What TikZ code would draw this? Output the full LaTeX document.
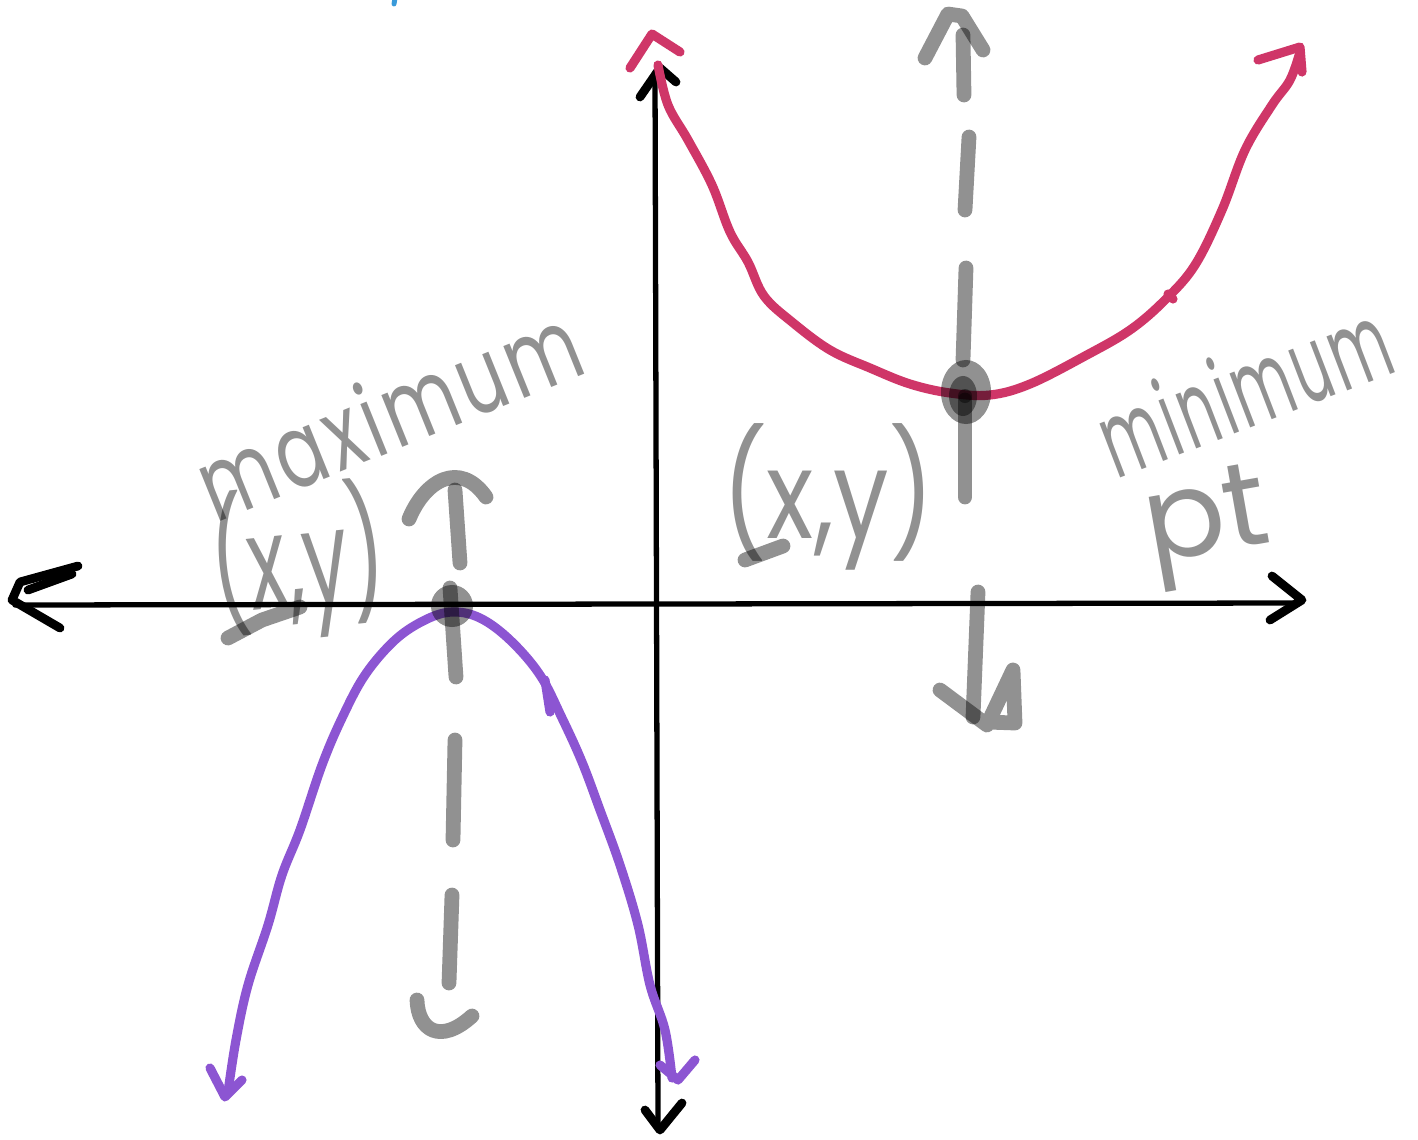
\documentclass[tikz,border=0pt]{standalone}
\usepackage{fontspec}
\setmainfont{Poppins}
\definecolor{curvered}{HTML}{CF3668}
\definecolor{curvepurple}{HTML}{8C55D2}
\definecolor{inkblue}{HTML}{3A9AD9}
\begin{document}
\begin{tikzpicture}[x=0.01cm,y=-0.01cm, line cap=round, line join=round,
 axis/.style={draw=black, line width=1.5pt},
 axhead/.style={draw=black, line width=2.5pt},
 redc/.style={draw=curvered, line width=2.6pt},
 purc/.style={draw=curvepurple, line width=2.6pt},
 pen/.style={draw=black, draw opacity=0.43, line width=4.2pt},
 blob/.style={fill=black, fill opacity=0.43},
 hw/.style={text=black, text opacity=0.43, inner sep=0pt, transform shape}
]
\useasboundingbox[fill=white] (0,0) rectangle (1418,1139);

% stray blue mark at top
\draw[draw=inkblue, line width=1.4pt] (395,-2) -- (394,4);

% axes
\coordinate (xl) at (15,605);
\coordinate (xr) at (1298,603);
\coordinate (yt) at (655,72);
\coordinate (yb) at (658,1125);
\draw[axis] (xl) -- (xr);
\draw[axis] (yt) -- (yb);
\draw[axhead] (78,566) -- (20,582) -- (12,600) -- (60,628);
\draw[axhead] (72,574) -- (28,590);
\draw[axhead] (1272,576) -- (1302,600) -- (1270,620);
\draw[axhead] (640,97) -- (660,68) -- (676,82);
\draw[axhead] (645,1110) -- (660,1130) -- (682,1103);

% red (upward) parabola
\draw[redc] plot[smooth, tension=0.6] coordinates {(658,65) (668,105) (688,140) (712,185) (730,232) (748,262) (764,296) (792,322) (830,350) (870,368) (910,384) (950,393) (990,395) (1030,384) (1085,356) (1130,330) (1165,300) (1195,265) (1222,210) (1245,150) (1272,105) (1290,80) (1300,52)};
\draw[redc] (630,68) -- (652,34) -- (680,52);
\draw[redc] (1258,60) -- (1300,47) -- (1302,72);
\draw[redc] (1168,294) -- (1173,299);

% purple (downward) parabola
\draw[purc] plot[smooth, tension=0.6] coordinates {(228,1092) (236,1040) (248,985) (268,925) (282,875) (300,830) (322,765) (342,718) (365,675) (395,640) (425,620) (452,612) (480,618) (510,640) (540,675) (562,718) (582,762) (600,810) (620,865) (638,925) (650,985) (665,1030) (672,1078)};
\draw[purc] (210,1068) -- (225,1097) -- (242,1080);
\draw[purc] (660,1065) -- (678,1080) -- (695,1060);
\draw[purc] (545,680) -- (550,712);

% right axis of symmetry (gray dashed with arrows)
\draw[pen] (925,58) -- (948,14) -- (962,16) -- (983,50);
\draw[pen] (963,35) -- (964,95);
\draw[pen] (969,137) -- (965,210);
\draw[pen] (966,268) -- (963,360);
\draw[pen] (965,400) -- (965,497);
\draw[pen] (978,592) -- (973,717);
\draw[pen] (940,690) -- (987,725) -- (1013,670) -- (1015,723) -- (987,722);
\fill[blob] (966,392) ellipse [x radius=0.25cm, y radius=0.32cm];
\fill[blob] (963,396) ellipse [x radius=0.14cm, y radius=0.2cm];
\fill[blob] (965,396) circle [radius=0.07cm];

% left axis of symmetry
\draw[pen] (409,519) .. controls (425,480) and (460,460) .. (486,497);
\draw[pen] (455,490) -- (460,563);
\draw[pen] (450,588) -- (456,677);
\draw[pen] (455,740) -- (453,840);
\draw[pen] (452,895) -- (449,983);
\draw[pen] (417,1000) .. controls (418,1030) and (440,1045) .. (472,1016);
\fill[blob] (452,606) circle [radius=0.21cm];

% extra pen strokes
\draw[pen] (228,638) -- (262,620) -- (300,607);
\draw[pen] (745,560) -- (783,546);

% handwritten labels
\node[hw, rotate=22, xscale=0.72, font=\fontsize{29}{29}\selectfont\addfontfeature{LetterSpace=6}] (maxlbl) at (388,412) {maximum};
\node[hw, rotate=6, xscale=0.62, font=\fontsize{37}{37}\selectfont] (lxy) at (298,562) {(x,y)};
\node[hw, xscale=0.8, font=\fontsize{35}{35}\selectfont] (rxy) at (828,497) {(x,y)};
\node[hw, rotate=21, xscale=0.55, font=\fontsize{30}{30}\selectfont\addfontfeature{LetterSpace=6}] (minlbl) at (1244,388) {minimum};
\node[hw, rotate=10, font=\fontsize{34}{34}\selectfont] (ptlbl) at (1208,528) {pt};
\end{tikzpicture}
\end{document}
